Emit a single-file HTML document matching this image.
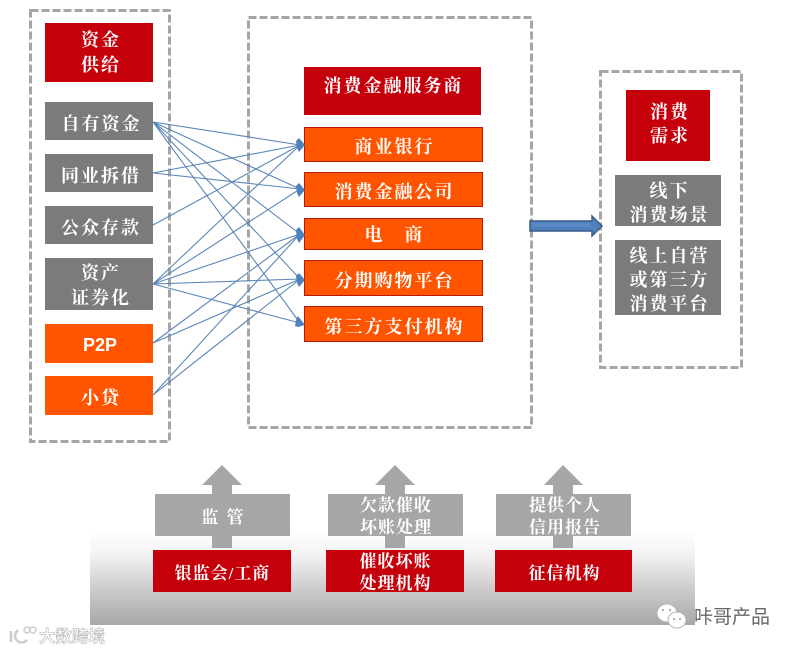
<!DOCTYPE html>
<html><head><meta charset="utf-8"><style>
html,body{margin:0;padding:0;background:#fff}
#p{position:relative;width:795px;height:652px;overflow:hidden;background:#fff;font-family:"Liberation Serif","Noto Serif CJK SC",serif}
.b{position:absolute;display:flex;align-items:center;justify-content:center;text-align:center;color:#fff;font-weight:700;font-size:18px;line-height:24px;letter-spacing:2px;box-sizing:border-box;white-space:pre}
.s{font-size:17px;letter-spacing:1px;line-height:22px}
.r{background:#c5000b}.g{background:#7b7b7b}.o{background:#ff5500}.ob{background:#ff5500;border:1px solid #b81a0a}.l{background:#a6a6a6}
svg{position:absolute;left:0;top:0}
</style></head><body><div id="p">
<div style="position:absolute;left:90px;top:530px;width:605px;height:95px;background:linear-gradient(#fff 0%,#f4f4f4 25%,#c4c4c4 70%,#a8a8a8 100%)"></div>
<svg width="795" height="652" viewBox="0 0 795 652">
<g fill="none" stroke="#a6a6a6" stroke-width="3" stroke-dasharray="8 3">
<rect x="30.500" y="10.500" width="139" height="431"/>
<rect x="248.500" y="17.500" width="283" height="410"/>
<rect x="600.500" y="71.500" width="141" height="296"/>
</g>
<g fill="#a6a6a6">
<polygon points="222,465 242,485 232,485 232,548 212,548 212,485 202,485"/>
<polygon points="395,465 415,485 405,485 405,548 385,548 385,485 375,485"/>
<polygon points="563,465 583,485 573,485 573,548 553,548 553,485 544,485"/>
</g>
</svg>
<div class="b r" style="left:45px;top:23px;width:108px;height:59px;padding-left:4px;line-height:25px;padding-top:1px">资金
供给</div>
<div class="b g" style="left:45px;top:102px;width:108px;height:38px;padding:6px 0 0 5px">自有资金</div>
<div class="b g" style="left:45px;top:154px;width:108px;height:38px;padding:6px 0 0 4px">同业拆借</div>
<div class="b g" style="left:45px;top:206px;width:108px;height:38px;padding:6px 0 0 4px">公众存款</div>
<div class="b g" style="left:45px;top:258px;width:108px;height:52px;padding:3px 0 0 4px;line-height:25px">资产
证券化</div>
<div class="b o" style="left:45px;top:324px;width:108px;height:39px;font-family:'Liberation Sans',sans-serif;letter-spacing:0;padding:2px 0 0 2px">P2P</div>
<div class="b o" style="left:45px;top:376px;width:108px;height:39px;padding:4px 0 0 4px">小贷</div>
<div class="b r" style="left:304px;top:67px;width:177px;height:48px;padding:0 0 10px 2px">消费金融服务商</div>
<div class="b ob" style="left:304px;top:127px;width:179px;height:35px;padding:4px 0 0 2px">商业银行</div>
<div class="b ob" style="left:304px;top:172px;width:179px;height:35px;padding:4px 0 0 2px">消费金融公司</div>
<div class="b ob" style="left:304px;top:218px;width:179px;height:32px;padding:2px 0 0 2px">电　商</div>
<div class="b ob" style="left:304px;top:260px;width:179px;height:36px;padding:6px 0 0 2px">分期购物平台</div>
<div class="b ob" style="left:304px;top:306px;width:179px;height:36px;padding:6px 0 0 2px">第三方支付机构</div>
<div class="b r" style="left:626px;top:90px;width:84px;height:71px;padding:0 0 4px 4px">消费
需求</div>
<div class="b g" style="left:615px;top:175px;width:106px;height:51px;padding:4px 0 0 3px">线下
消费场景</div>
<div class="b g" style="left:615px;top:240px;width:106px;height:75px;padding:4px 0 0 3px">线上自营
或第三方
消费平台</div>
<div class="b l" style="left:155px;top:494px;width:135px;height:42px;font-size:17px;padding:6px 0 0 2px">监 管</div>
<div class="b l s" style="left:328px;top:494px;width:135px;height:42px;padding:4px 0 0 1px">欠款催收
坏账处理</div>
<div class="b l s" style="left:496px;top:494px;width:135px;height:42px;padding:4px 0 0 3px">提供个人
信用报告</div>
<div class="b r s" style="left:153px;top:550px;width:138px;height:42px;padding:6px 0 0 1px">银监会/工商</div>
<div class="b r s" style="left:326px;top:550px;width:138px;height:42px;padding:4px 0 0 1px">催收坏账
处理机构</div>
<div class="b r s" style="left:495px;top:550px;width:137px;height:42px;padding:5px 0 0 2px">征信机构</div>
<svg width="795" height="652" viewBox="0 0 795 652">
<g stroke="#5b86b8" stroke-width="1.100" fill="none">
<path d="M153 122L300 145M153 122L300 189M153 122L300 234M153 122L300 279M153 122L300 323"/>
<path d="M153 173L300 145M153 173L300 189"/>
<path d="M153 225L300 145"/>
<path d="M153 284L300 145M153 284L300 189M153 284L300 234M153 284L300 279M153 284L300 323"/>
<path d="M153 343L300 234M153 343L300 279"/>
<path d="M153 395L300 234M153 395L300 279"/>
</g>
<g fill="#4f81bd">
<polygon points="305,145 299,138 296,141 297,148 299,152"/>
<polygon points="305,190 299,183 296,186 297,193 299,197"/>
<polygon points="305,235 299,227 296,230 297,239 299,243"/>
<polygon points="305,280 299,273 296,276 297,283 299,287"/>
<polygon points="305,325 298,316 296,320 295,326 298,327"/>
<polygon points="530,221 592,221 592,216 602,226 592,236 592,231 530,231" stroke="#385d8a" stroke-width="1.500"/>
<rect x="532" y="223" width="58" height="4" fill="#5a8ac6"/>
</g>
<g fill="#fff" stroke="#b5b5b5" stroke-width="1">
<ellipse cx="667" cy="613" rx="10" ry="9"/>
<ellipse cx="677" cy="620" rx="9" ry="8"/>
</g>
<g fill="#999"><circle cx="663" cy="610" r="1"/><circle cx="670" cy="610" r="1"/><circle cx="674" cy="619" r="1"/><circle cx="680" cy="619" r="1"/></g>
<path d="M11 631v11M18 630c-4 4-4 9 1 12c3 1 6 0 8-2" fill="none" stroke="#ccc" stroke-width="2.500"/>
<circle cx="27" cy="630" r="3" fill="none" stroke="#ccc" stroke-width="1.500"/>
<circle cx="33" cy="630" r="3" fill="none" stroke="#ccc" stroke-width="1.500"/>
</svg>
<div style="position:absolute;left:39px;top:628px;font:700 16.500px/18px 'Liberation Sans','Noto Sans CJK SC',sans-serif;color:#fff;-webkit-text-stroke:.7px #bdbdbd;white-space:nowrap">大数跨境</div>
<div style="position:absolute;left:694px;top:607px;font:400 19px/22px 'Liberation Sans','Noto Sans CJK SC',sans-serif;color:#666;white-space:nowrap">咔哥产品</div>
</div></body></html>
